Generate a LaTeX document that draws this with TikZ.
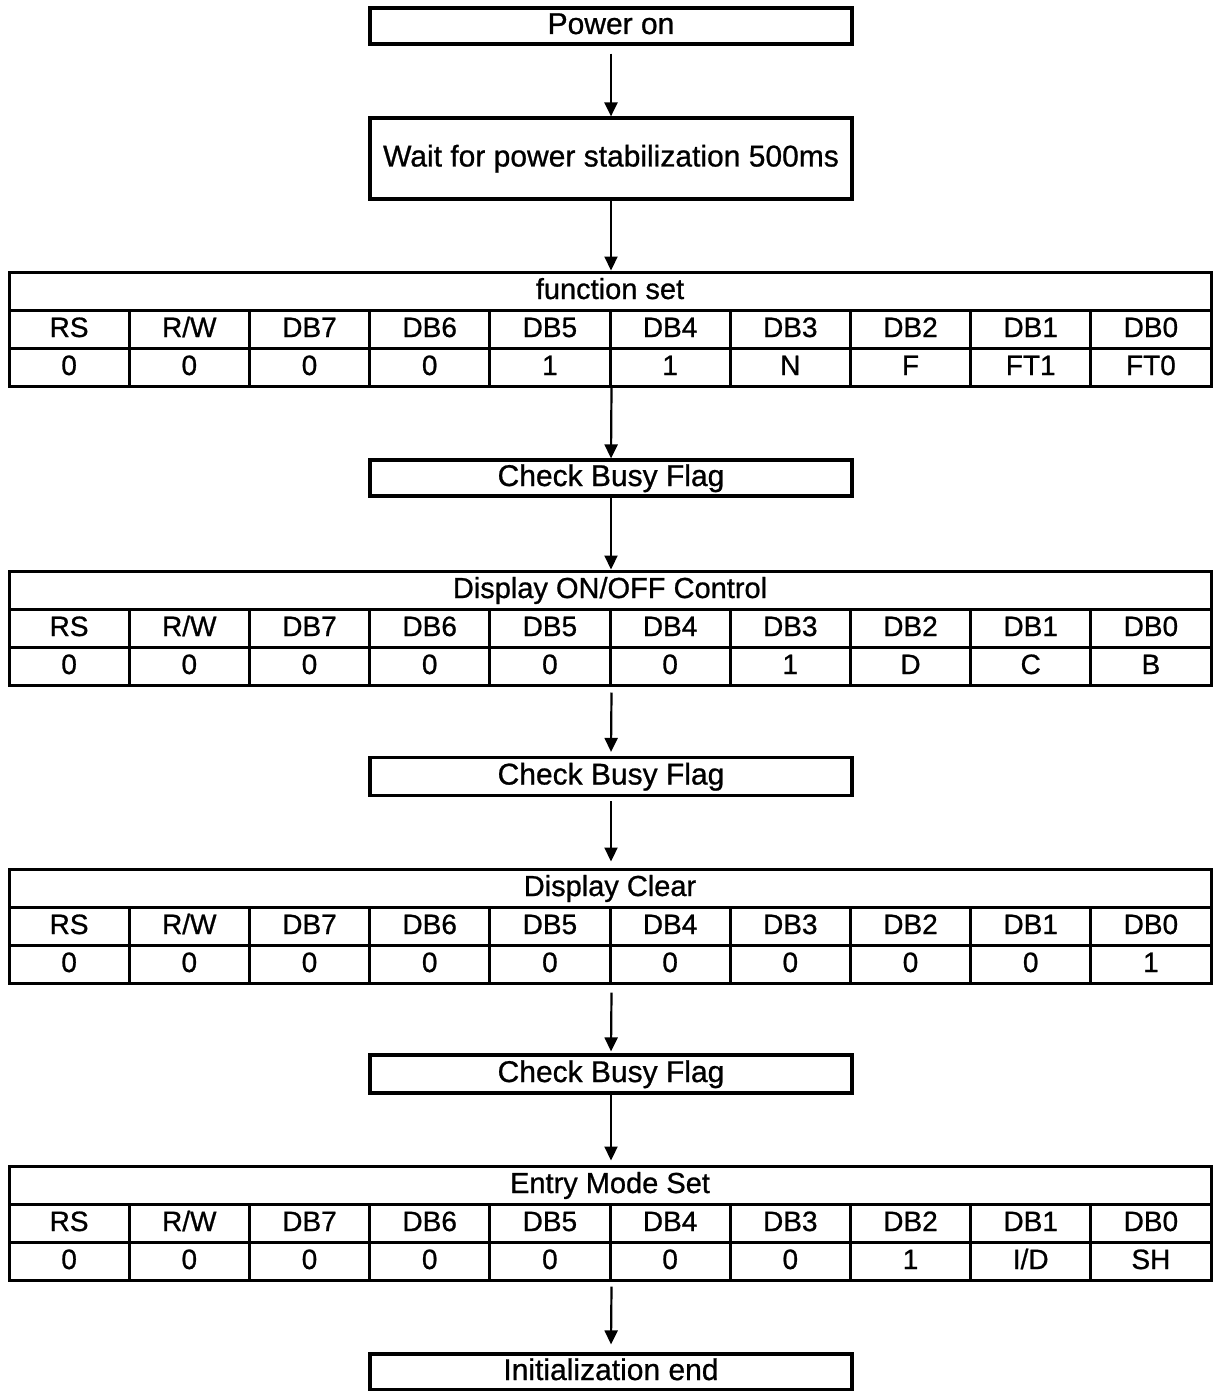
\documentclass[tikz,border=0pt]{standalone}
\usepackage{fontspec}
\setmainfont{Liberation Sans}[FakeBold=0.8]
\usetikzlibrary{arrows.meta}
\tikzset{
  flowbox/.style={draw, line width=3.2pt, minimum width=482pt, inner sep=0pt,
    text height=21pt, text depth=5pt, font=\fontsize{30}{30}\selectfont},
  ttl/.style={draw, line width=3pt, minimum width=1202pt, minimum height=38pt, inner sep=0pt,
    text height=21pt, text depth=5pt, font=\fontsize{29}{30}\selectfont},
  cell/.style={draw, line width=3pt, minimum width=120.2pt, minimum height=38pt, inner sep=0pt,
    text height=20pt, text depth=4pt, font=\fontsize{28}{30}\selectfont},
  arr/.style={line width=2.2pt, -{Triangle[width=13pt,length=14pt]}}
}
\newcommand\regtable[4]{%
  \node[ttl] (#1t) at (610,{#2+19}) {#3};
  \foreach \h [count=\i from 0] in {RS,R/W,DB7,DB6,DB5,DB4,DB3,DB2,DB1,DB0}
    \node[cell] (#1h\i) at ({69.1+120.2*\i},{#2+57}) {\h};
  \foreach \v [count=\i from 0] in {#4}
    \node[cell] (#1v\i) at ({69.1+120.2*\i},{#2+95}) {\v};
}
\begin{document}
\begin{tikzpicture}[x=1pt,y=-1pt]
\useasboundingbox (0,0) rectangle (1214,1391);
\fill[white] (0,0) rectangle (1214,1391);

\node[flowbox, minimum height=36pt] (pwr) at (611,26) {Power on};
\node[flowbox, minimum height=81pt] (wait) at (611,158.5) {Wait for power stabilization 500ms};

\regtable{fs}{272}{function set}{0,0,0,0,1,1,N,F,FT1,FT0}
\node[flowbox, minimum height=36pt] (cbf1) at (611,478) {Check Busy Flag};
\regtable{dc}{571}{Display ON/OFF Control}{0,0,0,0,0,0,1,D,C,B}
\node[flowbox, minimum height=38pt] (cbf2) at (611,776.5) {Check Busy Flag};
\regtable{cl}{869}{Display Clear}{0,0,0,0,0,0,0,0,0,1}
\node[flowbox, minimum height=38pt] (cbf3) at (611,1074) {Check Busy Flag};
\regtable{em}{1166}{Entry Mode Set}{0,0,0,0,0,0,0,1,I/D,SH}
\node[flowbox, minimum height=36pt] (iend) at (611,1372) {Initialization end};

\draw[arr] ([yshift=-8pt]pwr.south) -- (wait.north);
\draw[arr] (wait.south) -- (wait.south |- fst.north);
\draw[arr] (fsv4.south east) -- (cbf1.north);
\draw[arr] (cbf1.south) -- (cbf1.south |- dct.north);
\draw[arr] ([yshift=-6pt]dcv4.south east) -- ([yshift=4pt]cbf2.north);
\draw[arr] ([yshift=-4pt]cbf2.south) -- ([yshift=6pt]cbf2.south |- clt.north);
\draw[arr] ([yshift=-8pt]clv4.south east) -- ([yshift=2pt]cbf3.north);
\draw[arr] (cbf3.south) -- ([yshift=4pt]cbf3.south |- emt.north);
\draw[arr] ([yshift=-5pt]emv4.south east) -- ([yshift=8pt]iend.north);
\end{tikzpicture}
\end{document}
